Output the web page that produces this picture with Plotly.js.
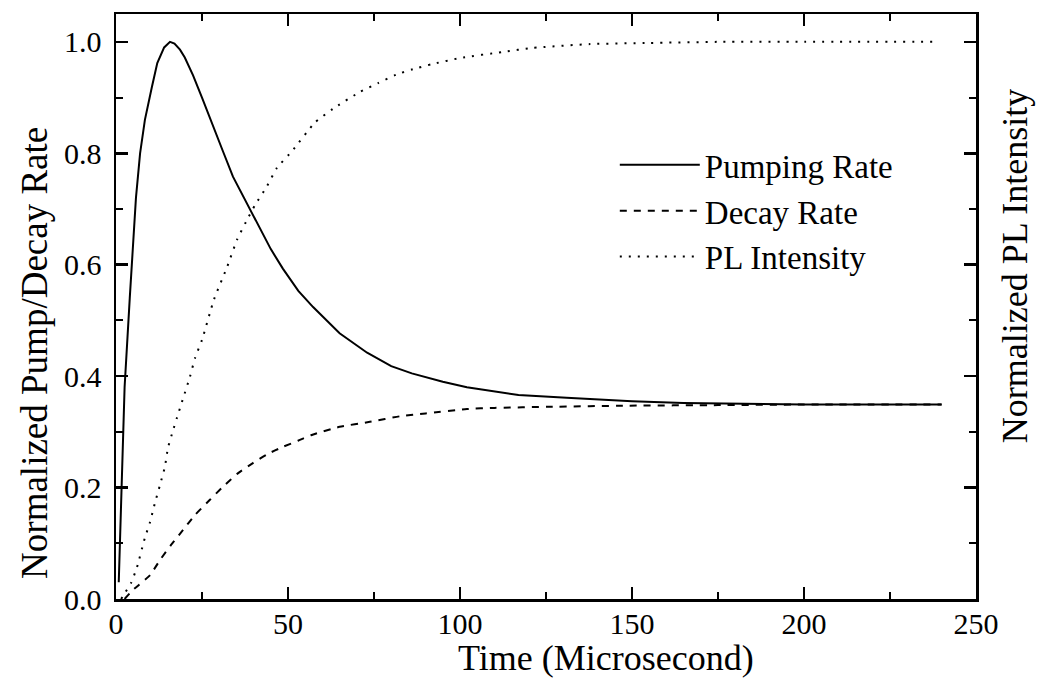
<!DOCTYPE html>
<html>
<head>
<meta charset="utf-8">
<script src="https://cdn.plot.ly/plotly-3.0.1.min.js"></script>
<style>html,body{margin:0;padding:0;background:#fff;}#chart{width:1037px;height:697px;}</style>
</head>
<body>
<div id="chart"></div>
<script>
const pumpTime = [0.8,1.2,1.7,2.5,4,5,5.8,7,8.4,10.4,12,14,15.7,17,18.6,20,22.4,25,28.8,31,34,38,41.9,45,48.5,53,57.3,65,73,80,86,95,102,110,117,131,150,165,184,200,220,240];
const pumpRate = [0.03,0.12,0.24,0.38,0.54,0.64,0.72,0.80,0.86,0.918,0.962,0.99,1.0,0.997,0.986,0.972,0.94,0.90,0.842,0.805,0.758,0.71,0.664,0.628,0.593,0.553,0.524,0.477,0.442,0.418,0.405,0.39,0.38,0.372,0.366,0.361,0.355,0.352,0.35,0.349,0.349,0.349];

const decayTime = [2.5,4.9,9.9,12.8,16,19.5,23,27.3,31,35.5,39.8,44,48.5,52.9,56.7,65,73.8,82.6,90,102,110,126,149,175,200,240];
const decayRate = [0,0.016,0.043,0.07,0.097,0.124,0.151,0.178,0.201,0.226,0.244,0.26,0.273,0.284,0.294,0.309,0.318,0.328,0.333,0.341,0.343,0.345,0.347,0.348,0.349,0.349];

const plTime = [1.5,2.6,4.4,6.1,8.4,9.9,11.3,12.8,14.2,15.1,16.6,17.7,19.5,21.5,23,25,28.5,32.3,35.2,37.8,40.4,43.9,46.8,51.2,57.8,63.1,70.9,76.2,81.4,86.3,91.9,100,112.5,121,137.8,155,175,200,239];
const plIntensity = [0,0.011,0.029,0.057,0.11,0.138,0.172,0.205,0.237,0.271,0.303,0.325,0.36,0.399,0.433,0.465,0.538,0.596,0.645,0.677,0.707,0.741,0.774,0.804,0.855,0.88,0.91,0.926,0.941,0.951,0.96,0.971,0.982,0.989,0.996,0.998,1.0,1.0,1.0];

const seriesNames = ['Pumping Rate','Decay Rate','PL Intensity'];
const xTicks = [0,50,100,150,200,250];
const yTicks = [0,0.2,0.4,0.6,0.8,1.0];
const xTitle = 'Time (Microsecond)';
const yTitle = 'Normalized Pump/Decay Rate';
const y2Title = 'Normalized PL Intensity';

const FONT = 'Liberation Serif, Times New Roman, Times, serif';

const traces = [
  {x: pumpTime, y: pumpRate, name: seriesNames[0], mode: 'lines', type: 'scatter',
   line: {color: '#000', width: 2}, legendgroup: 'a'},
  {x: decayTime, y: decayRate, name: seriesNames[1], mode: 'lines', type: 'scatter',
   line: {color: '#000', width: 2, dash: '7px,7px', shape: 'spline', smoothing: 0.5}, legendgroup: 'b'},
  {x: plTime, y: plIntensity, name: seriesNames[2], mode: 'lines', type: 'scatter', yaxis: 'y2',
   line: {color: '#000', width: 2, dash: '2px,7px', shape: 'spline', smoothing: 0.5}, legendgroup: 'c'}
];

const layout = {
  width: 1037, height: 697,
  paper_bgcolor: '#fff', plot_bgcolor: '#fff',
  margin: {l: 116, r: 61, t: 14, b: 98, pad: 0},
  font: {family: FONT, color: '#000', size: 30},
  showlegend: true,
  legend: {x: 0.58, y: 0.79, xanchor: 'left', yanchor: 'top', bgcolor: 'rgba(0,0,0,0)',
           font: {family: FONT, size: 33, color: '#000'}, itemwidth: 80, tracegroupgap: 0},
  xaxis: {
    range: [0, 250], tickvals: xTicks, ticktext: xTicks.map(String),
    ticks: 'inside', ticklen: 12, tickwidth: 2.5, tickcolor: '#000',
    showline: true, linewidth: 2.5, linecolor: '#000', mirror: 'ticks',
    showgrid: false, zeroline: false,
    minor: {ticks: 'inside', ticklen: 7, tickwidth: 2, tickcolor: '#000', dtick: 25, tick0: 0, showgrid: false},
    tickfont: {family: FONT, size: 30, color: '#000'},
    ticklabelstandoff: -4
  },
  yaxis: {
    range: [0, 1.05], tickvals: yTicks, ticktext: yTicks.map(v => v.toFixed(1)),
    ticks: 'inside', ticklen: 12, tickwidth: 2.5, tickcolor: '#000',
    showline: true, linewidth: 2.5, linecolor: '#000', mirror: 'ticks',
    showgrid: false, zeroline: false,
    minor: {ticks: 'inside', ticklen: 7, tickwidth: 2, tickcolor: '#000', dtick: 0.1, tick0: 0, showgrid: false},
    tickfont: {family: FONT, size: 30, color: '#000'},
    ticklabelstandoff: 6
  },
  yaxis2: {
    range: [0, 1.05], overlaying: 'y', side: 'right',
    showticklabels: false, ticks: '', showline: false, showgrid: false, zeroline: false
  },
  annotations: [
    {text: xTitle, xref: 'paper', yref: 'paper', x: 0.57, y: -0.1, xanchor: 'center', yanchor: 'middle',
     showarrow: false, font: {family: FONT, size: 36, color: '#000'}},
    {text: yTitle, xref: 'paper', yref: 'paper', x: -0.094, y: 0.421, xanchor: 'center', yanchor: 'middle',
     textangle: -90, showarrow: false, font: {family: FONT, size: 37, color: '#000'}},
    {text: y2Title, xref: 'paper', yref: 'paper', x: 1.0455, y: 0.569, xanchor: 'center', yanchor: 'middle',
     textangle: -90, showarrow: false, font: {family: FONT, size: 36, color: '#000'}}
  ]
};

Plotly.newPlot('chart', traces, layout, {displayModeBar: false, staticPlot: true});
</script>
</body>
</html>
